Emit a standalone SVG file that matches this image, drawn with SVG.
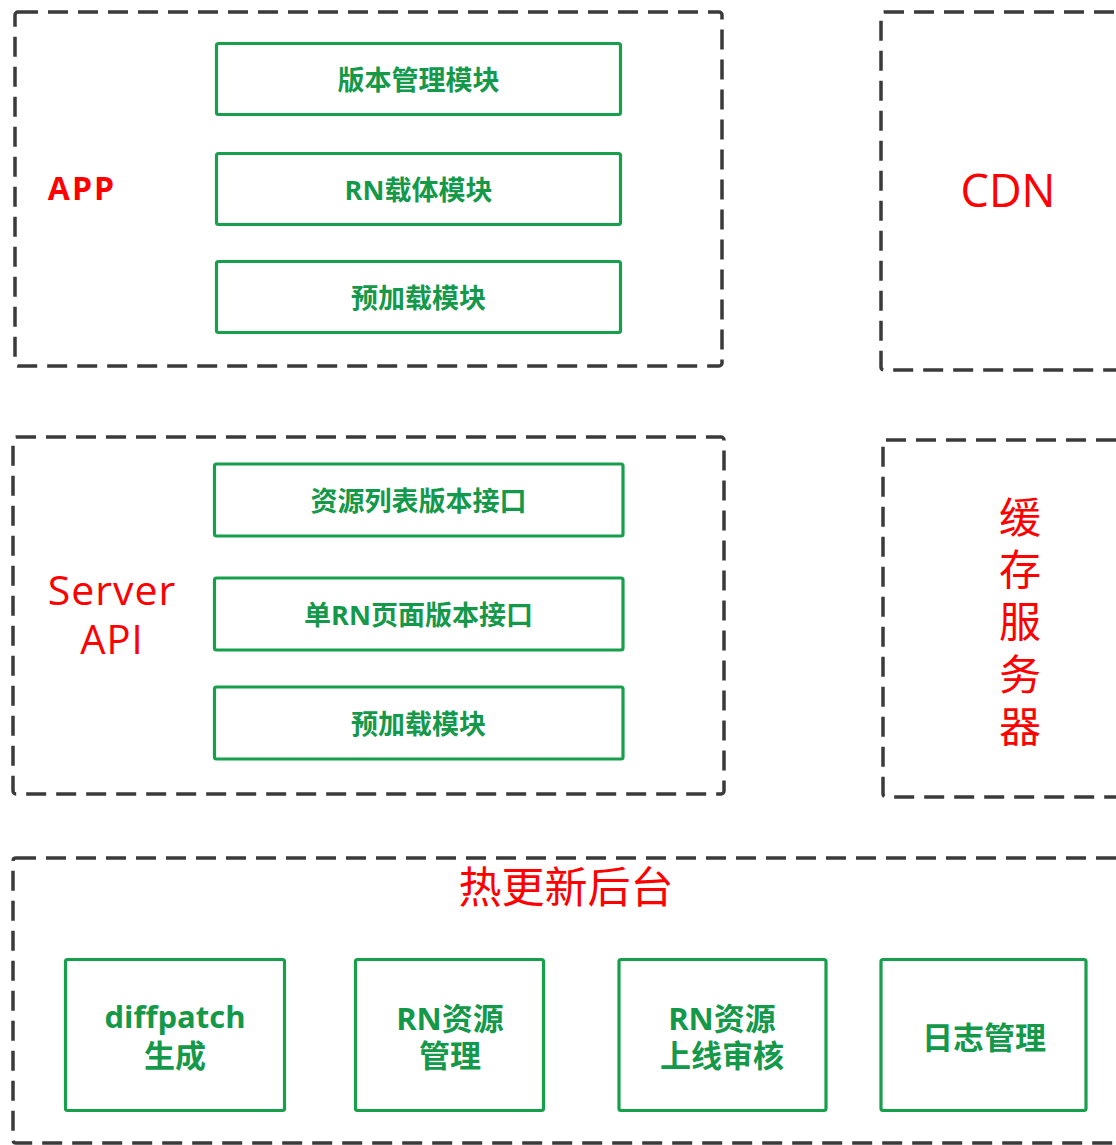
<svg xmlns="http://www.w3.org/2000/svg" width="1116" height="1145" viewBox="0 0 1116 1145">
<style>
.grp{fill:none;stroke:#3a3a3a;stroke-width:3.5;stroke-dasharray:20 10}
.mod{fill:#fff;stroke:#17a04c;stroke-width:3.2}
.gt{font-family:"Open Sans","Noto Sans CJK SC",sans-serif;font-weight:700;fill:#14984a;text-anchor:middle}
.rt{font-family:"Open Sans","Noto Sans CJK SC",sans-serif;font-weight:400;fill:#ff0000;text-anchor:middle}
.rb{font-weight:700}
</style>
<rect width="1116" height="1145" fill="#fff"/>
<g id="app">
<rect class="grp" x="15" y="12" width="707" height="354" rx="3"/>
<text class="rt rb" x="82" y="200" font-size="32" letter-spacing="2">APP</text>
<g id="app-version"><rect class="mod" x="216.5" y="43.5" width="404" height="71" rx="2"/><text class="gt" x="418.5" y="79" font-size="27" dominant-baseline="central">版本管理模块</text></g>
<g id="app-rn"><rect class="mod" x="216.5" y="153.5" width="404" height="71" rx="2"/><text class="gt" x="418.5" y="189" font-size="27" dominant-baseline="central">RN载体模块</text></g>
<g id="app-preload"><rect class="mod" x="216.5" y="261.5" width="404" height="71" rx="2"/><text class="gt" x="418.5" y="297" font-size="27" dominant-baseline="central">预加载模块</text></g>
</g>
<g id="cdn">
<rect class="grp" x="881" y="12" width="260" height="358" rx="3"/>
<text class="rt" x="1008" y="207" font-size="45">CDN</text>
</g>
<g id="server">
<rect class="grp" x="13" y="437" width="711" height="357" rx="3"/>
<text class="rt" x="112" y="605" font-size="41" letter-spacing="1">Server</text>
<text class="rt" x="112" y="654" font-size="40" letter-spacing="1">API</text>
<g id="srv-list"><rect class="mod" x="214.5" y="464" width="408.5" height="72" rx="2"/><text class="gt" x="418.5" y="500" font-size="27" dominant-baseline="central">资源列表版本接口</text></g>
<g id="srv-single"><rect class="mod" x="214.5" y="578" width="408.5" height="72" rx="2"/><text class="gt" x="418.5" y="614" font-size="27" dominant-baseline="central">单RN页面版本接口</text></g>
<g id="srv-preload"><rect class="mod" x="214.5" y="687" width="408.5" height="72" rx="2"/><text class="gt" x="418.5" y="723" font-size="27" dominant-baseline="central">预加载模块</text></g>
</g>
<g id="cache">
<rect class="grp" x="883" y="440" width="260" height="357" rx="3"/>
<text class="rt" x="1020" y="533" font-size="42">缓</text>
<text class="rt" x="1020" y="585" font-size="42">存</text>
<text class="rt" x="1020" y="637" font-size="42">服</text>
<text class="rt" x="1020" y="690" font-size="42">务</text>
<text class="rt" x="1020" y="742" font-size="42">器</text>
</g>
<g id="backend">
<rect class="grp" x="13" y="858" width="1130" height="285" rx="3"/>
<text class="rt" x="566" y="903" font-size="43">热更新后台</text>
<g id="be-diff"><rect class="mod" x="65.5" y="959.5" width="219" height="151" rx="2"/><text class="gt" x="175" y="1028" font-size="31">diffpatch</text><text class="gt" x="175" y="1067" font-size="31">生成</text></g>
<g id="be-res"><rect class="mod" x="355.5" y="959.5" width="188" height="151" rx="2"/><text class="gt" x="450" y="1030" font-size="31">RN资源</text><text class="gt" x="450" y="1067" font-size="31">管理</text></g>
<g id="be-audit"><rect class="mod" x="619" y="959.5" width="207" height="151" rx="2"/><text class="gt" x="722" y="1030" font-size="31">RN资源</text><text class="gt" x="722" y="1067" font-size="31">上线审核</text></g>
<g id="be-log"><rect class="mod" x="881" y="959.5" width="205" height="151" rx="2"/><text class="gt" x="984" y="1049" font-size="31">日志管理</text></g>
</g>
<g id="connectors"></g>
</svg>
